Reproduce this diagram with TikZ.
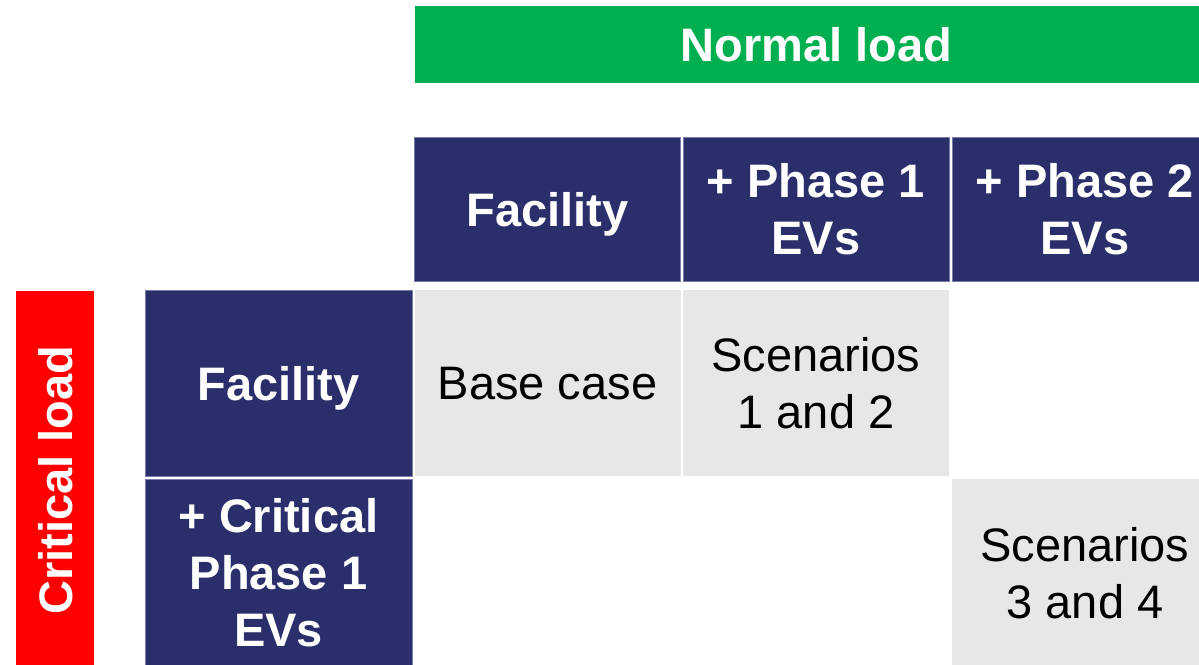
\documentclass[tikz,border=0pt]{standalone}
\usepackage{fontspec}
\setmainfont{Liberation Sans}
\definecolor{navy}{RGB}{42,46,106}
\definecolor{navyedge}{RGB}{120,124,170}
\definecolor{lgreen}{RGB}{0,176,80}
\definecolor{lred}{RGB}{255,0,0}
\definecolor{lgray}{RGB}{231,231,233}
\tikzset{
  cellbox/.style={inner sep=0pt, align=center, text depth=0pt, font=\fontsize{47}{57}\selectfont},
  headbox/.style={cellbox, fill=navy, draw=navyedge, line width=0.6pt, text=white, font=\fontsize{47}{57}\selectfont\bfseries},
  graybox/.style={cellbox, fill=lgray, text=black},
  barbox/.style={cellbox, text=white, font=\fontsize{47}{57}\selectfont\bfseries}
}
\begin{document}
\begin{tikzpicture}[x=1pt,y=-1pt]
\useasboundingbox (0,0) rectangle (1199,664);
\clip (0,0) rectangle (1199,664);
% top green bar
\node[barbox, fill=lgreen, minimum width=803pt, minimum height=77pt] (normal) at (816.5,44.5) {Normal load};
% column headers
\node[headbox, minimum width=266pt, minimum height=144pt] (h1) at (547.5,209) {Facility};
\node[headbox, minimum width=266pt, minimum height=144pt] (h2) at (816,209) {+ Phase 1\\EVs};
\node[headbox, minimum width=266pt, minimum height=144pt] (h3) at (1085,209) {+ Phase 2\\EVs};
% row headers
\node[headbox, minimum width=267pt, minimum height=186pt] (r1) at (278.5,383) {Facility};
\node[headbox, minimum width=267pt, minimum height=187pt] (r2) at (278.5,572.5) {+ Critical\\Phase 1\\EVs};
% left red bar
\node[barbox, fill=lred, rotate=90, minimum width=378pt, minimum height=78pt] (critical) at (55,480) {Critical load};
% gray cells
\node[graybox, minimum width=266pt, minimum height=186pt] (c11) at (547.5,383) {Base case};
\node[graybox, minimum width=266pt, minimum height=186pt] (c12) at (816,383) {Scenarios\\1 and 2};
\node[graybox, minimum width=266pt, minimum height=187pt] (c23) at (1085,572.5) {Scenarios\\3 and 4};
\end{tikzpicture}
\end{document}
